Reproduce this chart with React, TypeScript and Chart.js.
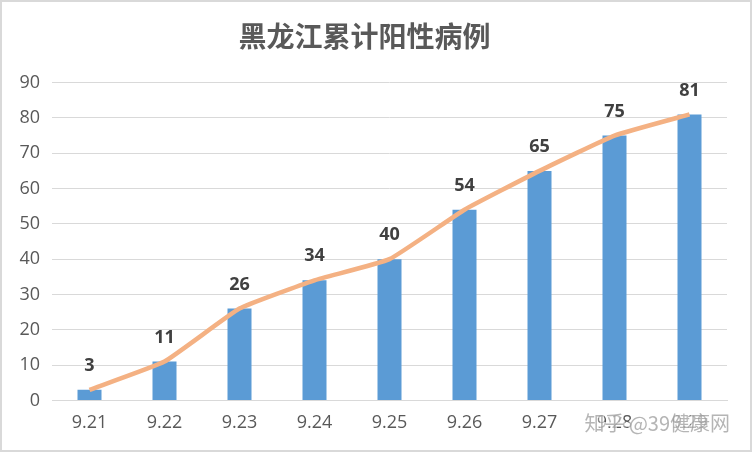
import React, { useEffect, useRef } from "react";
import { Chart, registerables } from "chart.js";

Chart.register(...registerables);

const categories = ["9.21", "9.22", "9.23", "9.24", "9.25", "9.26", "9.27", "9.28", "9.29"];
const cumulativeCases = [3, 11, 26, 34, 40, 54, 65, 75, 81];
const yTicks = [0, 10, 20, 30, 40, 50, 60, 70, 80, 90];
const titleText = "黑龙江累计阳性病例";
const watermarkText = "知乎 @39健康网";

const CJK_FONT = "'Noto Sans CJK SC', sans-serif";
const NUM_FONT = "'Open Sans', 'Noto Sans', sans-serif";

// Bold value labels above each bar
const valueLabels = {
  id: "valueLabels",
  afterDatasetsDraw(chart: any) {
    const { ctx } = chart;
    const meta = chart.getDatasetMeta(1);
    ctx.save();
    ctx.font = `bold 18px ${NUM_FONT}`;
    ctx.fillStyle = "#404040";
    ctx.textAlign = "center";
    ctx.textBaseline = "middle";
    meta.data.forEach((bar: any, i: number) => {
      ctx.fillText(String(cumulativeCases[i]), bar.x, bar.y - 24);
    });
    ctx.restore();
  },
};

// Faint source watermark in the lower right corner
const watermark = {
  id: "watermark",
  afterDraw(chart: any) {
    const { ctx, chartArea } = chart;
    ctx.save();
    ctx.font = `20px ${CJK_FONT}`;
    ctx.textAlign = "right";
    ctx.textBaseline = "middle";
    ctx.lineWidth = 3;
    ctx.strokeStyle = "rgba(255,255,255,0.6)";
    ctx.strokeText(watermarkText, chartArea.right + 3, chartArea.bottom + 23);
    ctx.fillStyle = "rgba(150,150,150,0.7)";
    ctx.fillText(watermarkText, chartArea.right + 3, chartArea.bottom + 23);
    ctx.restore();
  },
};

export default function App() {
  const canvasRef = useRef<HTMLCanvasElement | null>(null);

  useEffect(() => {
    document.body.style.margin = "0";
    const canvas = canvasRef.current;
    if (!canvas) return;
    const chart = new Chart(canvas, {
      type: "bar",
      data: {
        labels: categories,
        datasets: [
          {
            type: "line",
            data: cumulativeCases,
            borderColor: "#F4B183",
            borderWidth: 4.5,
            pointRadius: 0,
            tension: 0.12,
            order: 0,
          } as any,
          {
            type: "bar",
            data: cumulativeCases,
            backgroundColor: "#5B9BD5",
            barPercentage: 0.32,
            categoryPercentage: 1,
            order: 1,
          },
        ],
      },
      options: {
        responsive: false,
        animation: false,
        layout: { padding: { left: 0, right: 23, top: 0, bottom: 12 } },
        plugins: {
          legend: { display: false },
          tooltip: { enabled: false },
          title: {
            display: true,
            text: titleText,
            color: "#595959",
            font: { family: CJK_FONT, size: 28, weight: "bold" },
            padding: { top: 18, bottom: 29 },
          },
        },
        scales: {
          x: {
            grid: { display: false },
            border: { display: true, color: "#D9D9D9", width: 1 },
            ticks: {
              color: "#595959",
              font: { family: NUM_FONT, size: 18 },
              padding: 4,
              maxRotation: 0,
            },
          },
          y: {
            min: 0,
            max: 90,
            afterBuildTicks(scale: any) {
              scale.ticks = yTicks.map((v) => ({ value: v }));
            },
            afterFit(scale: any) {
              scale.width = 50;
            },
            grid: { color: "#D9D9D9", lineWidth: 1, drawTicks: false },
            border: { display: false },
            ticks: {
              color: "#595959",
              font: { family: NUM_FONT, size: 18 },
              padding: 12,
            },
          },
        },
      },
      plugins: [valueLabels, watermark],
    });
    return () => chart.destroy();
  }, []);

  return (
    <div
      style={{
        width: 752,
        height: 452,
        boxSizing: "border-box",
        border: "2px solid #D9D9D9",
        background: "#FFFFFF",
      }}
    >
      <canvas ref={canvasRef} width={748} height={448} style={{ display: "block" }} />
    </div>
  );
}
